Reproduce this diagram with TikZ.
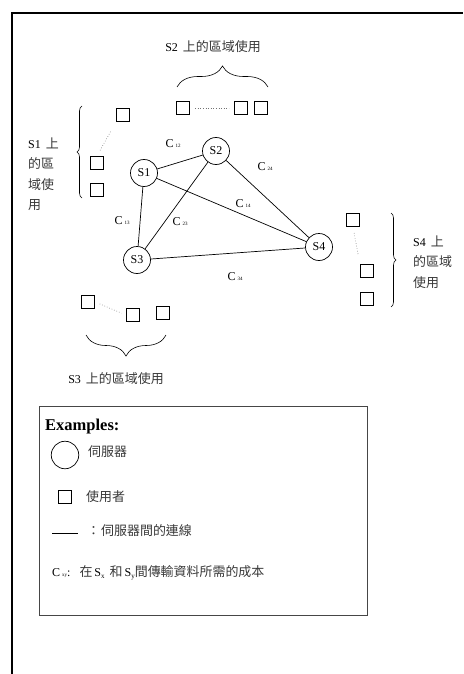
\documentclass[tikz,border=0pt]{standalone}
\usepackage{fontspec}
\setmainfont{Liberation Serif}
\newfontfamily\cjk[Scale=1.08]{Noto Sans CJK TC}
\usetikzlibrary{decorations.pathreplacing}
\newcommand\zh[1]{{\cjk\color{black!78}#1}}
\newcommand\clab[1]{C\,{\fontsize{5}{5}\selectfont #1}}
\newcommand\subl[1]{\raisebox{-2pt}{\fontsize{7}{7}\selectfont #1}}
\begin{document}
\begin{tikzpicture}[x=1pt,y=-1pt,
  server/.style={circle,draw,line width=0.7pt,minimum size=27pt,inner sep=0pt,font=\fontsize{12}{12}\selectfont},
  user/.style={draw,line width=0.7pt,minimum size=13.5pt,inner sep=0pt},
  link/.style={line width=0.7pt},
  dots/.style={black!55,dotted,line width=0.6pt},
  txt/.style={font=\fontsize{12}{20.5}\selectfont,inner sep=0pt},
  cost/.style={font=\fontsize{12}{12}\selectfont,inner sep=0pt},
  brc/.style={decorate,decoration={brace,amplitude=#1},line width=0.6pt},
]
\useasboundingbox (0,0) rectangle (463,674);
\draw[line width=2.5pt] (12,674) -- (12,13) -- (463,13);

% servers
\node[server] (s1) at (144,173) {S1};
\node[server] (s2) at (216,151) {S2};
\node[server] (s3) at (137,260) {S3};
\node[server] (s4) at (319,247) {S4};
\draw[link] (s1) -- (s2) (s1) -- (s3) (s1) -- (s4) (s2) -- (s3) (s2) -- (s4) (s3) -- (s4);

% costs
\node[cost] (c12) at (173,144) {\clab{12}};
\node[cost] (c24) at (265,167) {\clab{24}};
\node[cost] (c14) at (243,204) {\clab{14}};
\node[cost] (c13) at (122,221) {\clab{13}};
\node[cost] (c23) at (180,222) {\clab{23}};
\node[cost] (c34) at (235,277) {\clab{34}};

% S2 group
\node[user] (u21) at (183,108) {};
\node[user] (u22) at (241,108) {};
\node[user] (u23) at (261,108) {};
\draw[dots,shorten <=5pt,shorten >=5pt] (u21.east) -- (u22.west);
\draw[brc=21] (177,87) -- (268,87);
\node[txt] (t2) at (213,47) {S2\, \zh{上的區域使用}};

% S1 group
\node[user] (u11) at (123,115) {};
\node[user] (u12) at (97,163) {};
\node[user] (u13) at (97,190) {};
\draw[dots,shorten <=11pt,shorten >=6pt] (u11.south west) -- (u12.north);
\draw[brc=5] (82,198) -- (82,106);
\node[txt,anchor=west,align=left] (t1) at (28,174) {S1\, \zh{上}\\\zh{的區}\\\zh{域使}\\\zh{用}};

% S4 group
\node[user] (u41) at (353,220) {};
\node[user] (u42) at (367,271) {};
\node[user] (u43) at (367,299) {};
\draw[dots,shorten <=6pt,shorten >=10pt] (u41.south) -- (u42.north west);
\draw[brc=5] (391,213) -- (391,307);
\node[txt,anchor=west,align=left] (t4) at (413,262) {S4\, \zh{上}\\\zh{的區域}\\\zh{使用}};

% S3 group
\node[user] (u31) at (88,302) {};
\node[user] (u32) at (133,315) {};
\node[user] (u33) at (163,313) {};
\draw[dots,shorten <=5pt,shorten >=5pt] (u31.east) -- (u32.west);
\draw[brc=21] (166,335) -- (86,335);
\node[txt] (t3) at (116,379) {S3\, \zh{上的區域使用}};

% legend
\draw[gray!55!black,line width=0.8pt] (39,406) rectangle (367,615);
\node[anchor=west,inner sep=0pt,font=\bfseries\fontsize{16.5}{16.5}\selectfont] (ex) at (45,427) {Examples:};
\node[circle,draw,line width=0.7pt,minimum size=27.5pt,inner sep=0pt] (lc) at (65,455) {};
\node[txt,anchor=west] (lct) at (88,452) {\zh{伺服器}};
\node[user] (lu) at (65,497) {};
\node[txt,anchor=west] (lut) at (86,497) {\zh{使用者}};
\coordinate (la) at (52,533);
\coordinate (lb) at (78,533);
\draw[link] (la) -- (lb);
\node[txt,anchor=west] (llt) at (87,531) {\zh{：}\hspace{1pt}\zh{伺服器間的連線}};
\node[txt,anchor=west] (lcx) at (52,573) {C\,{\fontsize{5}{5}\selectfont xy}:\hspace{9pt}\zh{在}\,S\subl{x}\hspace{5pt}\zh{和}\,S\subl{y}\zh{間傳輸資料所需的成本}};
\end{tikzpicture}
\end{document}
